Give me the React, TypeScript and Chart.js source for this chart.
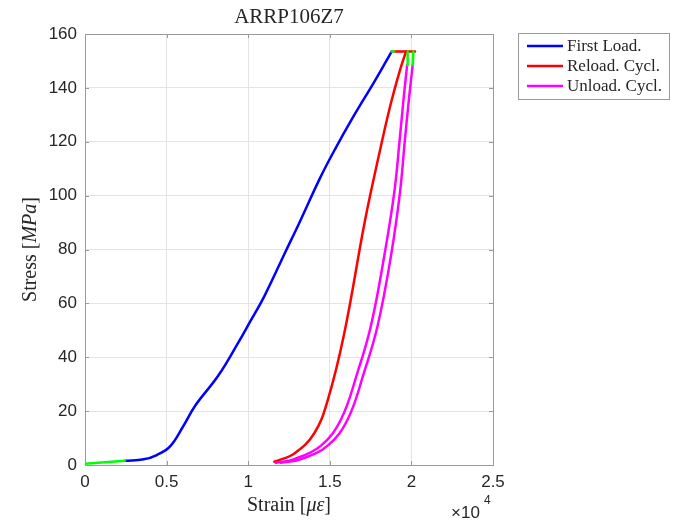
import React, { useEffect, useRef } from "react";
import { Chart, registerables } from "chart.js";

Chart.register(...registerables);

// ---------- data ----------
const chartTitle = "ARRP106Z7";
const legendLabels = ["First Load.", "Reload. Cycl.", "Unload. Cycl."];
const xTickValues = [0, 0.5, 1, 1.5, 2, 2.5];
const xTickLabels = ["0", "0.5", "1", "1.5", "2", "2.5"];
const yTickValues = [0, 20, 40, 60, 80, 100, 120, 140, 160];
const xExponentLabel = "4";

// strain in units of 1e4 microstrain, stress in MPa
const initialStrain = [0, 0.245];
const initialStress = [0.5, 1.6];

const firstLoadStrain = [0.245, 0.36, 0.44, 0.52, 0.6, 0.675, 0.817, 0.94, 1.01, 1.1, 1.227, 1.31, 1.44, 1.53, 1.644, 1.767, 1.849, 1.879];
const firstLoadStress = [1.6, 2.1, 3.7, 6.8, 14.2, 22, 33.2, 45.5, 53, 62.8, 79, 89.5, 106.5, 117, 129.3, 141.7, 150.3, 153.5];

const peakHoldStrain = [1.879, 1.893];
const peakHoldStress = [153.5, 153.5];

const reloadStrain = [1.16, 1.283, 1.405, 1.487, 1.589, 1.716, 1.808, 1.869, 1.93, 1.967];
const reloadStress = [1.2, 4.3, 11.8, 24, 49, 90.9, 116.9, 133, 146.6, 153.5];

const reloadTopStrain = [1.889, 2.022];
const reloadTopStress = [153.5, 153.5];

const unloadAStrain = [1.17, 1.283, 1.446, 1.569, 1.67, 1.752, 1.834, 1.895, 1.928, 1.952, 1.974];
const unloadAStress = [0.8, 2.2, 7.2, 17, 34.4, 51.7, 77.7, 101.2, 120.6, 135.9, 148.5];

const unloadBStrain = [1.2, 1.324, 1.487, 1.61, 1.71, 1.793, 1.875, 1.93, 1.96, 1.985, 2.008];
const unloadBStress = [0.8, 2.2, 7.2, 17, 34.4, 51.7, 77.7, 101.2, 120.6, 135.9, 148.5];

const holdAStrain = [1.975, 1.977];
const holdAStress = [148.5, 153.5];
const holdBStrain = [2.009, 2.012];
const holdBStress = [148.5, 153.5];

// ---------- styles ----------
const BLUE = "#0000ff";
const RED = "#ff0000";
const MAGENTA = "#ff00ff";
const GREEN = "#00ff00";
const AXIS = "#9a9a9a";
const GRID = "#e4e4e4";
const TEXT = "#262626";
const SERIF = "'Liberation Serif', 'Times New Roman', serif";
const SANS = "'Liberation Sans', Arial, sans-serif";

const pts = (xs: number[], ys: number[]) => xs.map((x, i) => ({ x, y: ys[i] }));

type Part = { t: string; italic?: boolean };

function drawParts(ctx: CanvasRenderingContext2D, parts: Part[], size: number, cx: number, cy: number) {
  const fonts = parts.map((p) => `${p.italic ? "italic " : ""}${size}px ${SERIF}`);
  let total = 0;
  const widths = parts.map((p, i) => {
    ctx.font = fonts[i];
    const w = ctx.measureText(p.t).width;
    total += w;
    return w;
  });
  let x = cx - total / 2;
  ctx.textBaseline = "middle";
  ctx.textAlign = "left";
  parts.forEach((p, i) => {
    ctx.font = fonts[i];
    ctx.fillText(p.t, x, cy);
    x += widths[i];
  });
}

const decorPlugin = {
  id: "decor",
  afterDraw(chart: any) {
    const ctx: CanvasRenderingContext2D = chart.ctx;
    const a = chart.chartArea;
    const xs = chart.scales.x;
    const ys = chart.scales.y;
    ctx.save();
    // box top/right
    ctx.strokeStyle = AXIS;
    ctx.lineWidth = 1;
    ctx.beginPath();
    ctx.moveTo(a.left, a.top + 0.5);
    ctx.lineTo(a.right + 0.5, a.top + 0.5);
    ctx.lineTo(a.right + 0.5, a.bottom);
    ctx.stroke();
    // inward ticks
    ctx.beginPath();
    xTickValues.forEach((v) => {
      const px = Math.round(xs.getPixelForValue(v)) + 0.5;
      ctx.moveTo(px, a.bottom);
      ctx.lineTo(px, a.bottom - 4);
      ctx.moveTo(px, a.top);
      ctx.lineTo(px, a.top + 4);
    });
    yTickValues.forEach((v) => {
      const py = Math.round(ys.getPixelForValue(v)) + 0.5;
      ctx.moveTo(a.left, py);
      ctx.lineTo(a.left + 4, py);
      ctx.moveTo(a.right, py);
      ctx.lineTo(a.right - 4, py);
    });
    ctx.stroke();

    ctx.fillStyle = TEXT;
    // title
    ctx.font = `21px ${SERIF}`;
    ctx.textAlign = "center";
    ctx.textBaseline = "middle";
    ctx.fillText(chartTitle, (a.left + a.right) / 2, 17);

    // x label
    drawParts(ctx, [{ t: "Strain " }, { t: "[" }, { t: "με", italic: true }, { t: "]" }], 20, (a.left + a.right) / 2, 506);

    // y label
    ctx.save();
    ctx.translate(31, (a.top + a.bottom) / 2);
    ctx.rotate(-Math.PI / 2);
    drawParts(ctx, [{ t: "Stress " }, { t: "[" }, { t: "MPa", italic: true }, { t: "]" }], 20, 0, 0);
    ctx.restore();

    // exponent
    ctx.font = `17px ${SANS}`;
    ctx.textAlign = "left";
    ctx.textBaseline = "alphabetic";
    ctx.fillText("×10", 451, 518);
    ctx.font = `12px ${SANS}`;
    ctx.fillText(xExponentLabel, 484, 504);

    // legend
    const lx = 518.5, ly = 33.5, lw = 151, lh = 66;
    ctx.fillStyle = "#ffffff";
    ctx.fillRect(lx, ly, lw, lh);
    ctx.strokeStyle = AXIS;
    ctx.strokeRect(lx, ly, lw, lh);
    const colors = [BLUE, RED, MAGENTA];
    legendLabels.forEach((lab, i) => {
      const y = 46 + i * 20;
      ctx.strokeStyle = colors[i];
      ctx.lineWidth = 2.5;
      ctx.beginPath();
      ctx.moveTo(527, y);
      ctx.lineTo(563, y);
      ctx.stroke();
      ctx.fillStyle = TEXT;
      ctx.font = `17px ${SERIF}`;
      ctx.textAlign = "left";
      ctx.textBaseline = "middle";
      ctx.fillText(lab, 567, y + 1);
    });
    ctx.restore();
  },
};

export default function App() {
  const ref = useRef<HTMLCanvasElement>(null);
  useEffect(() => {
    document.body.style.margin = "0";
    const canvas = ref.current!;
    const line = (data: any, color: string, order: number, tension = 0) => ({
      data,
      borderColor: color,
      backgroundColor: color,
      borderWidth: 2.5,
      pointRadius: 0,
      showLine: true,
      fill: false,
      tension,
      cubicInterpolationMode: "default",
      borderJoinStyle: "round",
      borderCapStyle: "round",
      order,
    });
    const chart = new Chart(canvas, {
      type: "scatter",
      data: {
        datasets: [
          line(pts(initialStrain, initialStress), GREEN, 0),
          line(pts(peakHoldStrain, peakHoldStress), GREEN, 0),
          line(pts(holdAStrain, holdAStress), GREEN, 0),
          line(pts(holdBStrain, holdBStress), GREEN, 0),
          line(pts(firstLoadStrain, firstLoadStress), BLUE, 3, 0.4),
          line(pts(reloadTopStrain, reloadTopStress), RED, 2),
          line(pts(reloadStrain, reloadStress), RED, 2, 0.4),
          line(pts(unloadAStrain, unloadAStress), MAGENTA, 1, 0.4),
          line(pts(unloadBStrain, unloadBStress), MAGENTA, 1, 0.4),
        ] as any,
      },
      options: {
        animation: false,
        responsive: false,
        devicePixelRatio: 1,
        layout: { padding: { top: 34, right: 183, left: 0, bottom: 0 } },
        plugins: { legend: { display: false }, title: { display: false }, tooltip: { enabled: false } },
        scales: {
          x: {
            type: "linear",
            min: 0,
            max: 2.5,
            afterFit: (s: any) => { s.height = 522 - 465; },
            afterBuildTicks: (s: any) => { s.ticks = xTickValues.map((v) => ({ value: v })); },
            ticks: {
              padding: 7,
              color: TEXT,
              font: { family: SANS, size: 17 },
              maxRotation: 0,
              autoSkip: false,
              callback: (v: any) => { const i = xTickValues.indexOf(Number(v)); return i >= 0 ? xTickLabels[i] : ""; },
            },
            grid: { color: GRID, drawTicks: false, lineWidth: 1 },
            border: { color: AXIS, width: 1 },
          },
          y: {
            type: "linear",
            min: 0,
            max: 160,
            afterFit: (s: any) => { s.width = 85; },
            afterBuildTicks: (s: any) => { s.ticks = yTickValues.map((v) => ({ value: v })); },
            ticks: { padding: 8, color: TEXT, font: { family: SANS, size: 17 }, autoSkip: false },
            grid: { color: GRID, drawTicks: false, lineWidth: 1 },
            border: { color: AXIS, width: 1 },
          },
        },
      } as any,
      plugins: [decorPlugin],
    });
    return () => chart.destroy();
  }, []);
  return (
    <div style={{ width: 676, height: 522, background: "#fff" }}>
      <canvas ref={ref} width={676} height={522} />
    </div>
  );
}
